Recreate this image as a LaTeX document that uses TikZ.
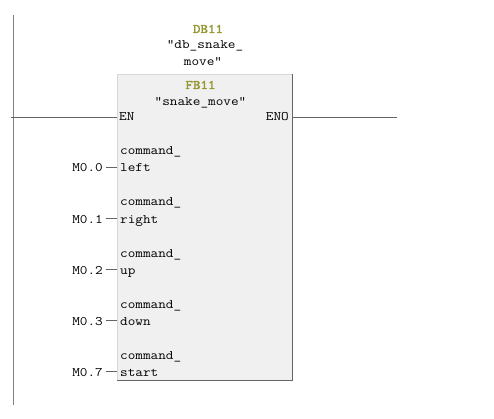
\documentclass[tikz,border=0pt]{standalone}
\usepackage{fontspec}
\setmonofont[FakeStretch=1.14]{Latin Modern Mono}
\newfontfamily\hdrfont[FakeStretch=1.12,FakeBold=2.5]{Latin Modern Mono}
\definecolor{olivelbl}{RGB}{150,150,50}
\definecolor{railgray}{RGB}{128,128,128}
\definecolor{wiregray}{RGB}{100,100,100}
\definecolor{boxfill}{RGB}{240,240,240}
\definecolor{boxdark}{RGB}{100,100,100}
\definecolor{boxlight}{RGB}{215,215,215}
\begin{document}
\begin{tikzpicture}[x=1pt,y=-1pt,
  txt/.style={inner sep=0pt, font=\ttfamily\fontsize{13}{15}\selectfont, text=black},
  hdr/.style={inner sep=0pt, font=\hdrfont\fontsize{13}{15}\selectfont, text=olivelbl},
  wire/.style={draw=wiregray, line width=0.9pt},
  rail/.style={draw=railgray, line width=1pt}]
\useasboundingbox[fill=white] (0,0) rectangle (494,419);
% block
\node[fill=boxfill, draw=none, inner sep=0pt, minimum width=175pt, minimum height=306.5pt, anchor=north west] (blk) at (117,74) {};
\draw[boxlight, line width=0.8pt] (blk.south west) -- (blk.north west) -- (blk.north east);
\draw[boxdark, line width=1pt] (blk.north east) -- (blk.south east) -- (blk.south west);
% rail
\coordinate (railtop) at (13,15);
\coordinate (railbot) at (13,405);
\draw[rail] (railtop) -- (railbot);
% titles
\node[hdr, anchor=base] (db) at (208,33) {DB11};
\node[txt, anchor=base] (dbn1) at (205,49) {"db\_snake\_};
\node[txt, anchor=base] (dbn2) at (203,65.5) {move"};
\node[hdr, anchor=base] (fb) at (200.5,89) {FB11};
\node[txt, anchor=base] (fbn) at (200.5,106) {"snake\_move"};
% EN / ENO
\node[txt, anchor=base west] (en) at (119,121) {EN};
\node[txt, anchor=base east] (eno) at (289,121) {ENO};
\coordinate (enleft) at (11,117);
\coordinate (enoright) at (397,117);
\draw[wire] (enleft) -- (enleft -| blk.west);
\draw[wire] (enoright -| blk.east) -- (enoright);
% pins
\foreach \i/\nm/\op/\yb in {1/left/M0.0/172, 2/right/M0.1/223, 3/up/M0.2/274, 4/down/M0.3/325, 5/start/M0.7/376}{
  \node[txt, anchor=base west] (cmd\i) at (120,\yb-17) {command\_};
  \node[txt, anchor=base west] (pin\i) at (120,\yb) {\nm};
  \node[txt, anchor=base east] (op\i) at (103,\yb) {\op};
  \coordinate (pc\i) at (117,\yb-4.3);
  \draw[wire] ([xshift=2.5pt]op\i.east |- pc\i) -- (pc\i);
}
\end{tikzpicture}
\end{document}
